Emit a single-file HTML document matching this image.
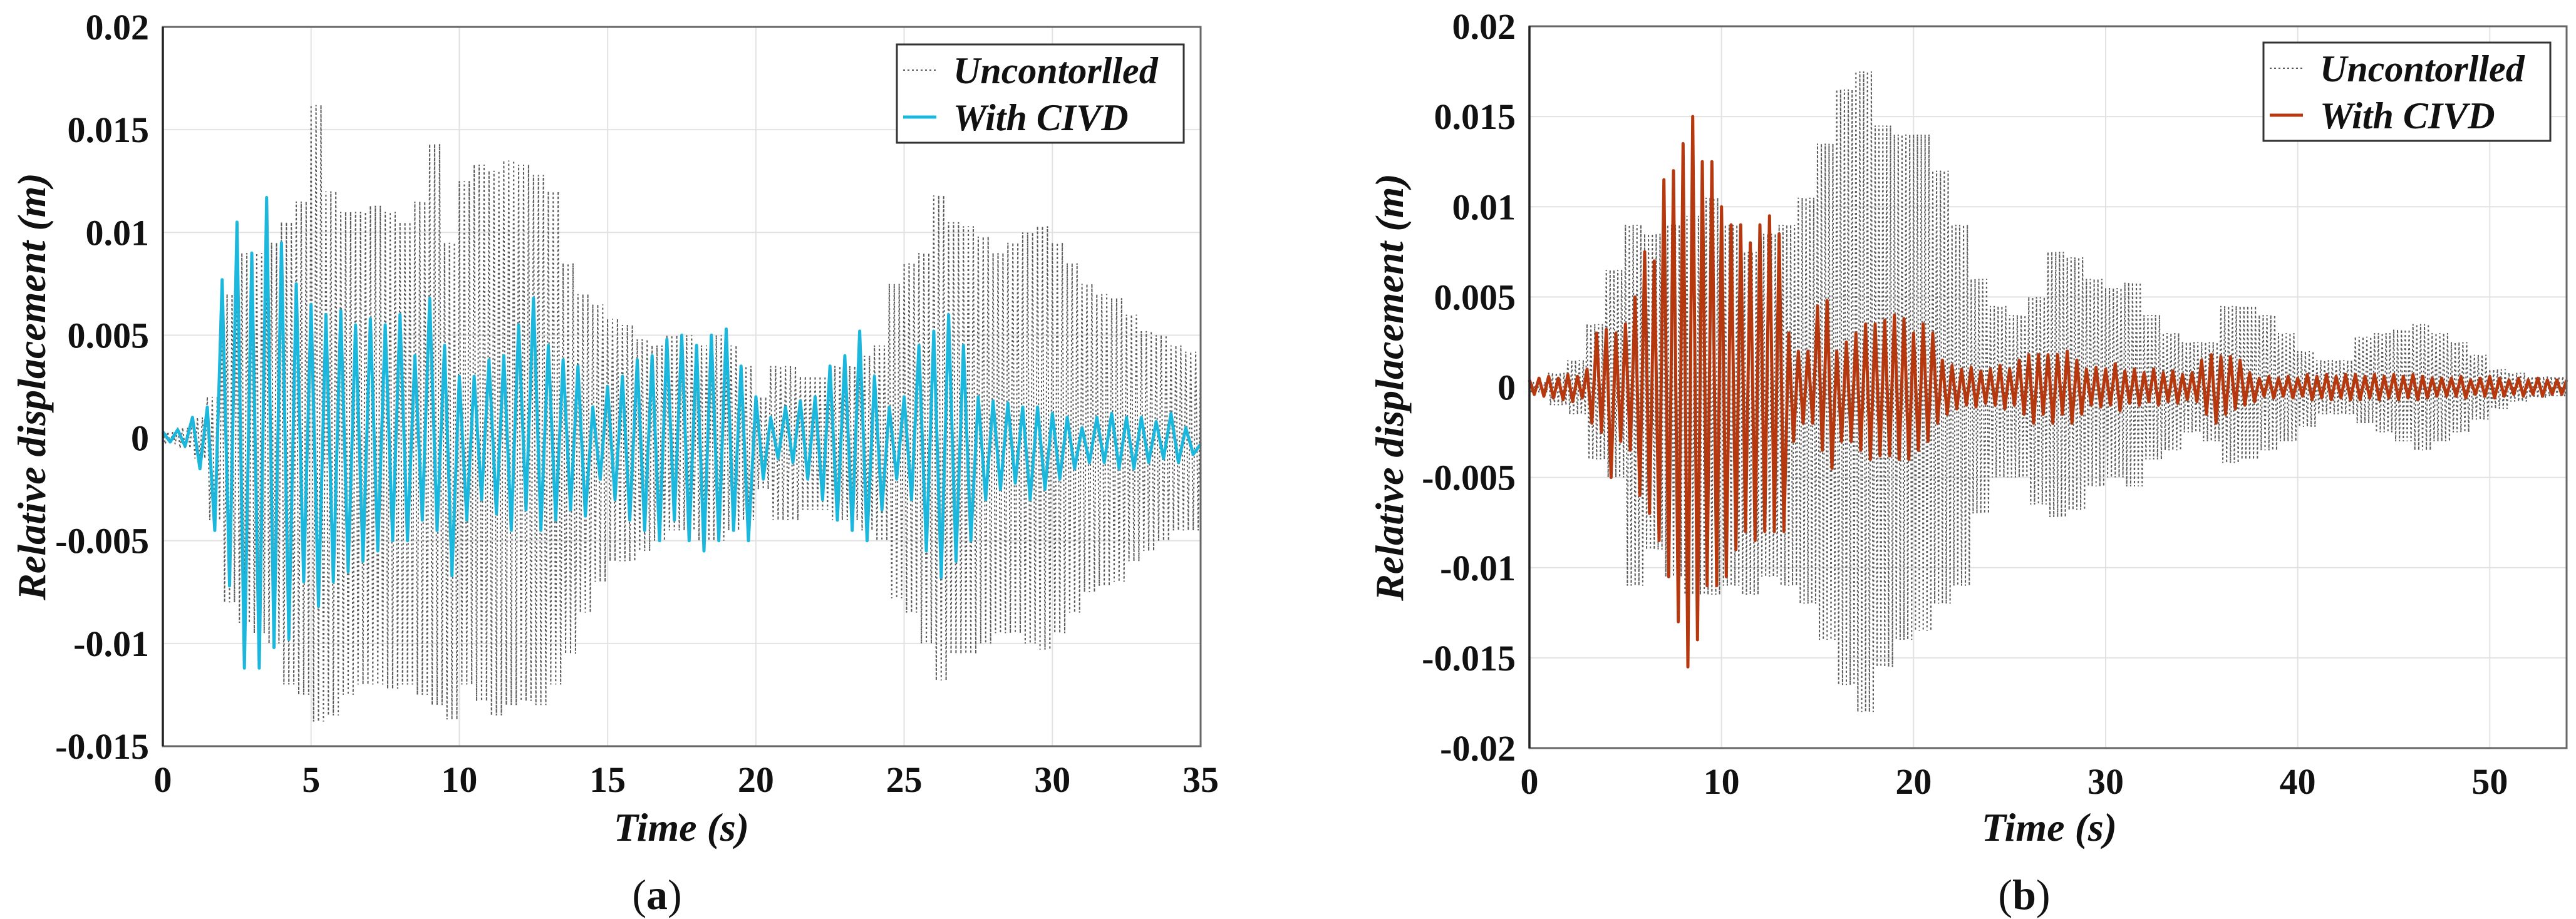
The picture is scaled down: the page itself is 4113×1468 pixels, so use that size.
<!DOCTYPE html>
<html><head><meta charset="utf-8">
<style>
html,body{margin:0;padding:0;background:#fff;}
svg{display:block;}
text{font-family:"Liberation Serif",serif;fill:#111;}
.tick{font-size:58px;font-weight:bold;}
.ttl{font-size:64px;font-weight:bold;font-style:italic;}
.leg{font-size:60px;font-weight:bold;font-style:italic;}
.cap{font-size:68px;}
</style></head>
<body>
<svg id="fig" width="4113" height="1468" viewBox="0 0 4113 1468" xmlns="http://www.w3.org/2000/svg"></svg>
<script>
// ---------- Data panel (a): 0.5 s sampled peak envelopes ----------
const timesA = [];
for (let i = 0; i <= 70; i++) timesA.push(i * 0.5);
const uncPosA = [.0003,.0005,.001,.002,.007,.009,.009,.0095,.0105,.0115,.0162,.012,.011,.011,.0113,.011,.0105,.0115,.0143,.0095,.0125,.0133,.013,.0135,.0133,.0128,.012,.0085,.007,.0065,.0058,.0055,.0048,.0045,.005,.005,.0045,.005,.0045,.0035,.002,.0035,.0035,.003,.003,.0035,.0035,.004,.0045,.0075,.0085,.009,.0118,.0105,.0103,.0098,.009,.0095,.01,.0103,.0095,.0085,.0075,.007,.0068,.006,.0052,.005,.0045,.0042,.004];
const uncNegA = [-.0003,-.0005,-.001,-.004,-.008,-.009,-.0095,-.01,-.012,-.0125,-.0138,-.0135,-.0125,-.012,-.012,-.0122,-.012,-.0125,-.013,-.0137,-.012,-.0128,-.0135,-.013,-.0128,-.013,-.012,-.0105,-.0085,-.007,-.006,-.006,-.0055,-.005,-.0045,-.0045,-.005,-.005,-.0045,-.004,-.0025,-.004,-.004,-.0035,-.0035,-.004,-.004,-.0045,-.005,-.0078,-.0085,-.01,-.0118,-.0105,-.0105,-.01,-.0095,-.0095,-.01,-.0103,-.0095,-.0085,-.0075,-.0072,-.007,-.006,-.0055,-.005,-.0045,-.0045,-.004];
const civdPosA = [.0003,.0004,.001,.0015,.0077,.0105,.009,.0117,.0095,.0075,.0065,.006,.0062,.0055,.0058,.0055,.006,.004,.0068,.0045,.003,.003,.0038,.004,.0055,.0068,.0045,.0038,.0035,.0015,.0025,.003,.0038,.004,.0048,.005,.0045,.005,.0053,.0035,.002,.001,.0015,.0018,.002,.0035,.004,.0052,.003,.0015,.002,.0045,.0052,.006,.0045,.002,.0018,.0017,.0015,.0015,.0012,.001,.0005,.001,.0012,.001,.001,.0008,.0012,.0005,-.0003];
const civdNegA = [-.0002,-.0004,-.0015,-.0045,-.0072,-.0112,-.0112,-.0102,-.0098,-.007,-.0082,-.007,-.0065,-.006,-.0055,-.005,-.005,-.004,-.0045,-.0067,-.004,-.003,-.0037,-.0045,-.0035,-.0045,-.004,-.0035,-.0038,-.002,-.003,-.004,-.0045,-.005,-.004,-.005,-.0055,-.005,-.0045,-.005,-.002,-.001,-.0012,-.002,-.003,-.004,-.0045,-.005,-.0035,-.002,-.003,-.0055,-.0068,-.006,-.005,-.003,-.0025,-.0022,-.003,-.0025,-.002,-.0015,-.0012,-.0012,-.0015,-.0015,-.0012,-.001,-.0012,-.0008,-.0003];
const xTicksA = [0,5,10,15,20,25,30,35];
const yTicksA = [0.02,0.015,0.01,0.005,0,-0.005,-0.01,-0.015];
const yLabelsA = ["0.02","0.015","0.01","0.005","0","-0.005","-0.01","-0.015"];

// ---------- Data panel (b) ----------
const timesBu = [];
for (let i = 0; i <= 54; i++) timesBu.push(i);
const uncPosB = [.0003,.0008,.0015,.0035,.0065,.009,.0085,.009,.0095,.0105,.009,.0075,.0085,.009,.0105,.0135,.0165,.0175,.0145,.014,.014,.012,.009,.006,.0045,.004,.005,.0075,.0072,.006,.0055,.0058,.004,.003,.0025,.0025,.0045,.0045,.004,.003,.002,.0015,.0015,.0028,.003,.0032,.0035,.003,.0025,.0018,.001,.0008,.0006,.0006,.0004];
const uncNegB = [-.0003,-.001,-.0015,-.004,-.005,-.011,-.009,-.0105,-.0115,-.0115,-.011,-.0115,-.0105,-.011,-.012,-.014,-.0165,-.018,-.0155,-.014,-.0135,-.012,-.011,-.007,-.005,-.005,-.0065,-.0072,-.0068,-.0055,-.005,-.0055,-.004,-.0035,-.0025,-.003,-.0042,-.004,-.0035,-.003,-.0022,-.0015,-.0015,-.002,-.0025,-.003,-.0035,-.003,-.0025,-.0018,-.0012,-.0008,-.0006,-.0005,-.0004];
const timesBc = [];
for (let i = 0; i <= 108; i++) timesBc.push(i * 0.5);
const civdPosB = [.0004,.0005,.0006,.0005,.0007,.0006, .001,.003,.0032,.003,.0035,.005, .0075,.007,.0115,.012,.0135,.015, .0125,.0125,.01,.009,.009,.008, .009,.0095,.0085,.003,.002,.002, .0045,.0048,.002,.0025,.003,.0035, .0035,.0037,.004,.0038,.003,.0035, .003,.0015,.0012,.001,.0011,.0009, .001,.0012,.001,.0015,.0018,.0018, .0018,.0018,.002,.0015,.001,.0011, .001,.0013,.0009,.001,.0008,.001, .0008,.0009,.0007,.0008,.0015,.0018, .0017,.0017,.0015,.0008,.0005,.0006, .0005,.0006,.0005,.0007,.0006,.0007, .0006,.0007,.0007,.0006,.0007,.0006, .0007,.0006,.0007,.0006,.0005,.0005, .0005,.0006,.0004,.0005,.0006,.0005, .0004,.0005,.0004,.0005,.0004,.0004, .0004];
const civdNegB = [-.0004,-.0005,-.0006,-.0007,-.0008,-.0006, -.002,-.0025,-.005,-.003,-.0035,-.006, -.007,-.0085,-.0105,-.013,-.0155,-.014, -.011,-.011,-.0105,-.009,-.008,-.0085, -.008,-.008,-.008,-.003,-.002,-.002, -.0035,-.0045,-.003,-.003,-.0035,-.004, -.0038,-.0038,-.004,-.004,-.0035,-.003, -.002,-.0015,-.0012,-.001,-.0011,-.0009, -.001,-.0012,-.001,-.0015,-.002,-.0015, -.002,-.0015,-.002,-.0015,-.001,-.0011, -.001,-.0013,-.0009,-.001,-.0008,-.001, -.0008,-.0009,-.0007,-.0008,-.0015,-.002, -.0015,-.0012,-.001,-.0008,-.0005,-.0006, -.0005,-.0006,-.0005,-.0007,-.0006,-.0007, -.0006,-.0007,-.0007,-.0006,-.0007,-.0006, -.0007,-.0006,-.0007,-.0006,-.0005,-.0005, -.0005,-.0006,-.0004,-.0005,-.0006,-.0005, -.0004,-.0005,-.0004,-.0005,-.0004,-.0004, -.0004];
const xTicksB = [0,10,20,30,40,50];
const yTicksB = [0.02,0.015,0.01,0.005,0,-0.005,-0.01,-0.015,-0.02];
const yLabelsB = ["0.02","0.015","0.01","0.005","0","-0.005","-0.01","-0.015","-0.02"];

const NS = "http://www.w3.org/2000/svg";
const svg = document.getElementById("fig");
function mk(tag, attrs, parent) {
  const e = document.createElementNS(NS, tag);
  for (const k in attrs) e.setAttribute(k, attrs[k]);
  (parent || svg).appendChild(e);
  return e;
}

function panel(cfg) {
  const g = mk("g", {});
  
  
  const L = cfg.L, R = cfg.R, T = cfg.T, B = cfg.B;
  const xs = v => L + (v - cfg.xmin) / (cfg.xmax - cfg.xmin) * (R - L);
  const ys = v => B - (v - cfg.ymin) / (cfg.ymax - cfg.ymin) * (B - T);

  cfg.xTicks.forEach(t => {
    const l = mk("line", {x1: xs(t), x2: xs(t), y1: T, y2: B, stroke: "#e2e2e2", "stroke-width": 2}, g);
    
    
  });
  cfg.yTicks.forEach(t => {
    const l = mk("line", {x1: L, x2: R, y1: ys(t), y2: ys(t), stroke: "#e2e2e2", "stroke-width": 2}, g);
    
    
  });

  let d = "";
  const sub = cfg.uncSub;
  for (let i = 0; i < cfg.uTimes.length; i++) {
    const step = (i < cfg.uTimes.length - 1 ? cfg.uTimes[i + 1] - cfg.uTimes[i] : cfg.uTimes[1] - cfg.uTimes[0]);
    for (let k = 0; k < sub; k++) {
      const t0 = cfg.uTimes[i] + step * k / sub;
      const t1 = t0 + step / sub / 2;
      if (t0 > cfg.xmax) break;
      d += (d ? "L" : "M") + xs(t0).toFixed(1) + "," + ys(cfg.uPos[i]).toFixed(1);
      if (t1 <= cfg.xmax) d += "L" + xs(t1).toFixed(1) + "," + ys(cfg.uNeg[i]).toFixed(1);
    }
  }
  const up = mk("path", {d: d, fill: "none", stroke: "#5a5a5a", "stroke-width": 2, "stroke-dasharray": "3 4"}, g);
  
  

  let d2 = "";
  for (let i = 0; i < cfg.cTimes.length; i++) {
    const step = cfg.cTimes[1] - cfg.cTimes[0];
    const t0 = cfg.cTimes[i], t1 = t0 + step / 2;
    d2 += (d2 ? "L" : "M") + xs(t0).toFixed(1) + "," + ys(cfg.cPos[i]).toFixed(1);
    if (t1 <= cfg.xmax) d2 += "L" + xs(t1).toFixed(1) + "," + ys(cfg.cNeg[i]).toFixed(1);
  }
  const cp = mk("path", {d: d2, fill: "none", stroke: cfg.color, "stroke-width": 5, "stroke-linejoin": "round"}, g);
  
  

  const fr = mk("rect", {x: L, y: T, width: R - L, height: B - T, fill: "none", stroke: "#666", "stroke-width": 3}, g);
  
  
  mk("line", {x1: L, x2: L, y1: T, y2: B, stroke: "#222", "stroke-width": 3.5}, g);

  cfg.xTicks.forEach(t => {
    const tx = mk("text", {x: xs(t), y: B + 73, "text-anchor": "middle", class: "tick"}, g);
    tx.textContent = String(t);
    
    
  });
  cfg.yTicks.forEach((t, i) => {
    const tx = mk("text", {x: L - 22, y: ys(t) + 20, "text-anchor": "end", class: "tick"}, g);
    tx.textContent = cfg.yLabels[i];
    
    
  });

  const xt = mk("text", {x: cfg.xTitleX, y: 1343, "text-anchor": "middle", class: "ttl"}, g);
  xt.textContent = "Time (s)";
  
  
  const yt = mk("text", {x: 0, y: 0, "text-anchor": "middle", class: "ttl", transform: "translate(" + cfg.yTitleX + "," + ((T + B) / 2) + ") rotate(-90)"}, g);
  yt.textContent = "Relative displacement (m)";
  
  

  const cap = mk("text", {x: cfg.capX, y: 1452, "text-anchor": "middle", class: "cap"}, g);
  cap.innerHTML = '(<tspan font-weight="bold">' + cfg.cap + '</tspan>)';
  
  

  const lg = mk("g", {}, g);
  
  
  mk("rect", {x: cfg.legX, y: cfg.legY, width: 458, height: 157, fill: "#fff", stroke: "#333", "stroke-width": 3}, lg);
  const l1 = mk("line", {x1: cfg.legX + 10, x2: cfg.legX + 63, y1: cfg.legY + 41, y2: cfg.legY + 41, stroke: "#5a5a5a", "stroke-width": 2, "stroke-dasharray": "3 4"}, lg);
  
  
  const t1 = mk("text", {x: cfg.legX + 90, y: cfg.legY + 62, class: "leg"}, lg);
  t1.textContent = "Uncontorlled";
  
  
  const l2 = mk("line", {x1: cfg.legX + 10, x2: cfg.legX + 63, y1: cfg.legY + 116, y2: cfg.legY + 116, stroke: cfg.color, "stroke-width": 5}, lg);
  
  
  const t2 = mk("text", {x: cfg.legX + 90, y: cfg.legY + 137, class: "leg"}, lg);
  t2.textContent = "With CIVD";
  
  
}

panel({name: "panel-a", L: 260, R: 1917, T: 43, B: 1192, xmin: 0, xmax: 35, ymin: -0.015, ymax: 0.02,
  xTicks: xTicksA, yTicks: yTicksA, yLabels: yLabelsA,
  uTimes: timesA, uPos: uncPosA, uNeg: uncNegA, uncSub: 3,
  cTimes: timesA, cPos: civdPosA, cNeg: civdNegA, color: "#1bb7dd",
  xTitleX: 1088, yTitleX: 72, capX: 1049, cap: "a", legX: 1432, legY: 71});

panel({name: "panel-b", L: 2442, R: 4098, T: 42, B: 1195, xmin: 0, xmax: 54, ymin: -0.02, ymax: 0.02,
  xTicks: xTicksB, yTicks: yTicksB, yLabels: yLabelsB,
  uTimes: timesBu, uPos: uncPosB, uNeg: uncNegB, uncSub: 5,
  cTimes: timesBc, cPos: civdPosB, cNeg: civdNegB, color: "#b5380f",
  xTitleX: 3272, yTitleX: 2240, capX: 3232, cap: "b", legX: 3614, legY: 68});
</script>
</body></html>
